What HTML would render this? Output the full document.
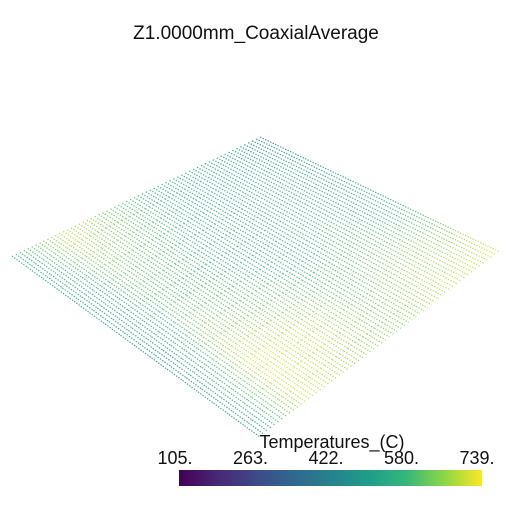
<!DOCTYPE html>
<html><head><meta charset="utf-8"><style>
html,body{margin:0;padding:0;background:#fff;}
svg{display:block;font-family:"Liberation Sans","DejaVu Sans",sans-serif;}
</style></head><body>
<svg id="c" width="512" height="512" viewBox="0 0 512 512">
<defs>
<linearGradient id="vir" x1="0" x2="1" y1="0" y2="0">
<stop offset="0" stop-color="#440154"/><stop offset="0.13" stop-color="#482878"/>
<stop offset="0.25" stop-color="#3e4989"/><stop offset="0.38" stop-color="#31688e"/>
<stop offset="0.5" stop-color="#26828e"/><stop offset="0.63" stop-color="#1f9e89"/>
<stop offset="0.75" stop-color="#35b779"/><stop offset="0.88" stop-color="#90d743"/>
<stop offset="1" stop-color="#fde725"/></linearGradient>
</defs>
<text x="256" y="39" text-anchor="middle" font-size="19" fill="#111">Z1.0000mm_CoaxialAverage</text>
<g id="pts"></g>
<text x="332" y="448" text-anchor="middle" font-size="18" fill="#111">Temperatures_(C)</text>
<g id="ticks"></g>
<rect x="179" y="470" width="303" height="16" fill="url(#vir)"/>
</svg>
<script>
const tickLabels = ["105.","263.","422.","580.","739."];
const tMin = 105, tMax = 739;
// temperature grid: rows u (left-bottom edge -> top-right edge), cols v (left-top edge -> bottom-right edge)
const tempRow0 = [560,520,480,460,480,520];
const tempRow1 = [700,640,600,650,720,700];
const tempRow2 = [620,600,580,620,700,660];
const tempRow3 = [560,560,560,580,620,640];
const tempRow4 = [520,560,580,600,650,700];
const tempRow5 = [440,480,520,560,640,720];
const temps = [tempRow0,tempRow1,tempRow2,tempRow3,tempRow4,tempRow5];

const L=[12,256],T=[260,137],R=[500,252],B=[260,437];
function P(u,v){
  const x=(1-u)*(1-v)*L[0]+u*(1-v)*T[0]+u*v*R[0]+(1-u)*v*B[0];
  const y=(1-u)*(1-v)*L[1]+u*(1-v)*T[1]+u*v*R[1]+(1-u)*v*B[1];
  return [x,y];
}
function tempAt(u,v){
  const nr=temps.length,nc=temps[0].length;
  const fr=u*(nr-1), fc=v*(nc-1);
  const r0=Math.min(nr-2,Math.floor(fr)), c0=Math.min(nc-2,Math.floor(fc));
  const a=fr-r0,b=fc-c0;
  return (1-a)*(1-b)*temps[r0][c0]+a*(1-b)*temps[r0+1][c0]+(1-a)*b*temps[r0][c0+1]+a*b*temps[r0+1][c0+1];
}
const stops=[[68,1,84],[72,40,120],[62,73,137],[49,104,142],[38,130,142],[31,158,137],[53,183,121],[144,215,67],[253,231,37]];
function vir(t){
  let s=Math.max(0,Math.min(1,(t-tMin)/(tMax-tMin)))*8;
  const i=Math.min(7,Math.floor(s)),f=s-i,a=stops[i],b=stops[i+1];
  return `rgb(${a.map((c,k)=>Math.round(c+(b[k]-c)*f)).join(',')})`;
}
const ns="http://www.w3.org/2000/svg";
const g=document.getElementById('pts');
const nLines=64, nSeg=16;
for(let li=0;li<nLines;li++){
  const u=li/(nLines-1);
  for(let ci=0;ci<nSeg;ci++){
    const v0=ci/nSeg, v1=(ci+1)/nSeg;
    const a=P(u,v0), b=P(u,v1);
    const ln=document.createElementNS(ns,'line');
    ln.setAttribute('x1',a[0].toFixed(1));ln.setAttribute('y1',a[1].toFixed(1));
    ln.setAttribute('x2',b[0].toFixed(1));ln.setAttribute('y2',b[1].toFixed(1));
    ln.setAttribute('stroke',vir(tempAt(u,(v0+v1)/2)));
    ln.setAttribute('stroke-width','1.2');
    ln.setAttribute('stroke-dasharray','1.4 1.4');
    ln.setAttribute('opacity','0.85');
    
    
    g.appendChild(ln);
  }
}
const tg=document.getElementById('ticks');
tickLabels.forEach((lab,i)=>{
  const t=document.createElementNS(ns,'text');
  t.setAttribute('x',(175+i*(477-175)/(tickLabels.length-1)).toFixed(1));
  t.setAttribute('y','464');
  t.setAttribute('text-anchor','middle');
  t.setAttribute('font-size','18');
  t.setAttribute('fill','#111');
  t.textContent=lab;
  
  
  tg.appendChild(t);
});
</script>
</body></html>
